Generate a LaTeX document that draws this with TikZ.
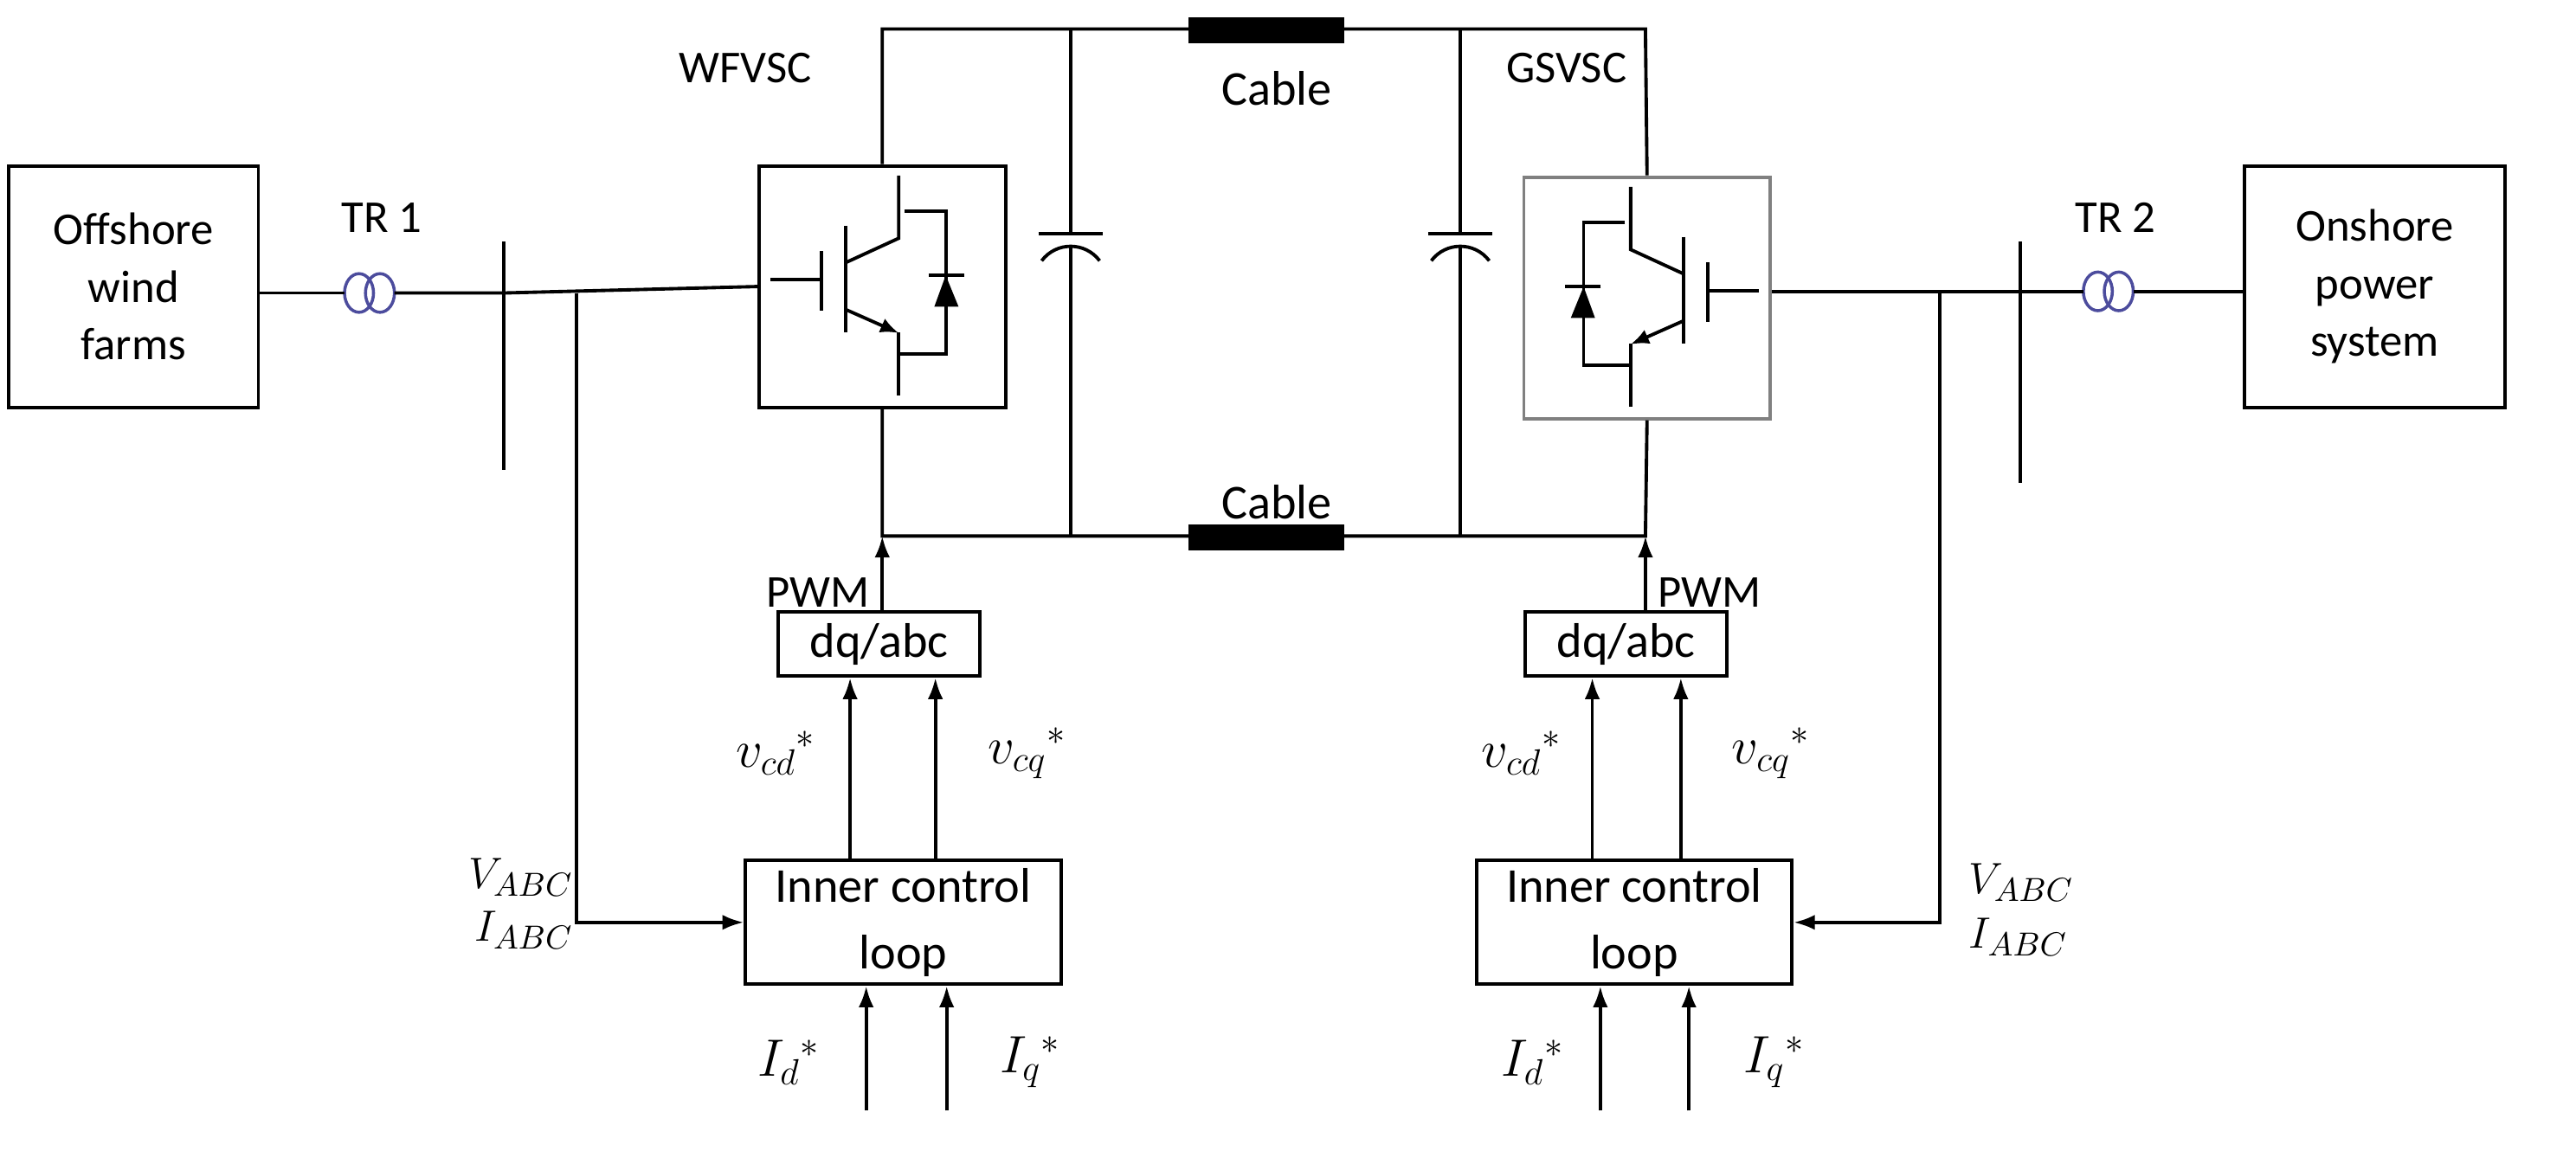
\documentclass[tikz,border=0pt]{standalone}
\usepackage{fontspec}
\setmainfont{Carlito}
\usetikzlibrary{arrows.meta}
\begin{document}
\begin{tikzpicture}[x=0.0186cm,y=-0.0186cm,line width=1.1pt,
  box/.style={draw,line width=1.1pt,inner sep=0pt},
  txt/.style={font=\fontsize{15}{19}\selectfont,align=center,inner sep=0pt},
  big/.style={font=\fontsize{16}{22}\selectfont,align=center,inner sep=0pt},
  mth/.style={font=\fontsize{15}{17}\selectfont,inner sep=0pt},
  bmth/.style={font=\fontsize{17}{20}\selectfont,inner sep=0pt},
  arr/.style={-{Latex[length=7pt,width=5pt]}},
  tr/.style={draw=blue!45!black!70,line width=1pt}]
\useasboundingbox (0,0) rectangle (1600,723);
% end boxes
\node[box,minimum width=155*0.0186cm,minimum height=150*0.0186cm,txt] (off) at (83,178) {Offshore\\wind\\farms};
\node[box,minimum width=162*0.0186cm,minimum height=150*0.0186cm,txt] (on) at (1475,178) {Onshore\\power\\system};
% converter boxes
\node[box,minimum width=153*0.0186cm,minimum height=150*0.0186cm] (wf) at (548,178) {};
\node[box,draw=gray,minimum width=153*0.0186cm,minimum height=150*0.0186cm] (gs) at (1023,185) {};
\node[txt] (wfl) at (463,42) {WFVSC};
\node[txt] (gsl) at (973,42) {GSVSC};
% buses
\coordinate (b1t) at (313,150); \coordinate (b1b) at (313,292);
\coordinate (b2t) at (1255,150); \coordinate (b2b) at (1255,300);
\draw (b1t) -- (b1b);
\draw (b2t) -- (b2b);
% transformers
\draw[tr] (223,182) ellipse (9 and 12);
\draw[tr] (236,182) ellipse (9 and 12);
\draw[tr] (1303,181) ellipse (9 and 12);
\draw[tr] (1316,181) ellipse (9 and 12);
\node[txt] (tr1) at (237,135) {TR 1};
\node[txt] (tr2) at (1314,135) {TR 2};
\draw (off.east |- 0,182) -- (214,182);
\draw (245,182) -- (313,182) -- (wf.west);
\draw (gs.east |- 0,181) -- (1294,181);
\draw (1325,181) -- (on.west |- 0,181);
% DC circuit
\coordinate (tl) at (548,18); \coordinate (tr) at (1022,18);
\coordinate (bl) at (548,333); \coordinate (br) at (1022,333);
\draw (wf.north) -- (tl) -- (tr) -- (gs.north);
\draw (wf.south) -- (bl) -- (br) -- (gs.south);
\fill (738,11) rectangle (835,27);
\fill (738,326) rectangle (835,342);
\node[big] (c1) at (793,55) {Cable};
\node[big] (c2) at (793,312) {Cable};
% capacitors
\foreach \cx in {665,907}{
  \draw (\cx,18) -- (\cx,145);
  \draw (\cx-20,145) -- (\cx+20,145);
  \draw (\cx-18,162) .. controls (\cx-9,150) and (\cx+9,150) .. (\cx+18,162);
  \draw (\cx,153) -- (\cx,333);
}
% IGBT symbols
\begin{scope}[shift={(wf.north west)},x=0.00329cm,y=-0.00329cm]
  \draw (45,405) -- (225,405); \draw (225,305) -- (225,515);
  \draw (310,215) -- (310,590);
  \draw (310,345) -- (495,260) -- (495,40);
  \draw[-{Latex[length=6pt,width=5pt]}] (310,510) -- (495,592);
  \draw (495,590) -- (495,810);
  \draw (515,165) -- (660,165) -- (660,665) -- (495,665);
  \draw (600,390) -- (725,390);
  \fill (620,500) -- (705,500) -- (660,390) -- cycle;
\end{scope}
\begin{scope}[shift={(gs.north east)},x=-0.00329cm,y=-0.00329cm]
  \draw (45,405) -- (225,405); \draw (225,305) -- (225,515);
  \draw (310,215) -- (310,590);
  \draw (310,345) -- (495,260) -- (495,40);
  \draw[-{Latex[length=6pt,width=5pt]}] (310,510) -- (495,592);
  \draw (495,590) -- (495,810);
  \draw (515,165) -- (660,165) -- (660,665) -- (495,665);
  \draw (600,390) -- (725,390);
  \fill (620,500) -- (705,500) -- (660,390) -- cycle;
\end{scope}
% control left
\node[box,minimum width=125*0.0186cm,minimum height=40*0.0186cm,big] (dq1) at (546,400) {dq/abc};
\node[box,minimum width=196*0.0186cm,minimum height=77*0.0186cm,big] (in1) at (561,573) {Inner control\\loop};
\draw[arr] (dq1.north -| bl) -- (bl);
\node[txt] (pwm1) at (508,368) {PWM};
\draw[arr] (in1.north -| 528,0) -- (dq1.south -| 528,0);
\draw[arr] (in1.north -| 581,0) -- (dq1.south -| 581,0);
\node[bmth] (vcd1) at (482,468) {$v_{cd}{}^{*}$};
\node[bmth] (vcq1) at (638,468) {$v_{cq}{}^{*}$};
\coordinate (id1) at (538,690); \coordinate (iq1) at (588,690);
\draw[arr] (id1) -- (id1 |- in1.south);
\draw[arr] (iq1) -- (iq1 |- in1.south);
\node[bmth] (id1l) at (490,660) {$I_{d}{}^{*}$};
\node[bmth] (iq1l) at (640,660) {$I_{q}{}^{*}$};
\coordinate (tap1) at (358,182);
\draw[arr] (tap1) -- (358,573) -- (in1.west);
\node[mth,anchor=east] (vabc1) at (357,545) {$V_{ABC}$};
\node[mth,anchor=east] (iabc1) at (357,578) {$I_{ABC}$};
% control right
\node[box,minimum width=125*0.0186cm,minimum height=40*0.0186cm,big] (dq2) at (1010,400) {dq/abc};
\node[box,minimum width=196*0.0186cm,minimum height=77*0.0186cm,big] (in2) at (1015,573) {Inner control\\loop};
\draw[arr] (dq2.north -| br) -- (br);
\node[txt] (pwm2) at (1062,368) {PWM};
\draw[arr] (in2.north -| 989,0) -- (dq2.south -| 989,0);
\draw[arr] (in2.north -| 1044,0) -- (dq2.south -| 1044,0);
\node[bmth] (vcd2) at (945,468) {$v_{cd}{}^{*}$};
\node[bmth] (vcq2) at (1100,468) {$v_{cq}{}^{*}$};
\coordinate (id2) at (994,690); \coordinate (iq2) at (1049,690);
\draw[arr] (id2) -- (id2 |- in2.south);
\draw[arr] (iq2) -- (iq2 |- in2.south);
\node[bmth] (id2l) at (952,660) {$I_{d}{}^{*}$};
\node[bmth] (iq2l) at (1102,660) {$I_{q}{}^{*}$};
\coordinate (tap2) at (1205,182);
\draw[arr] (tap2) -- (1205,573) -- (in2.east);
\node[mth,anchor=west] (vabc2) at (1222,548) {$V_{ABC}$};
\node[mth,anchor=west] (iabc2) at (1222,582) {$I_{ABC}$};
\end{tikzpicture}
\end{document}
